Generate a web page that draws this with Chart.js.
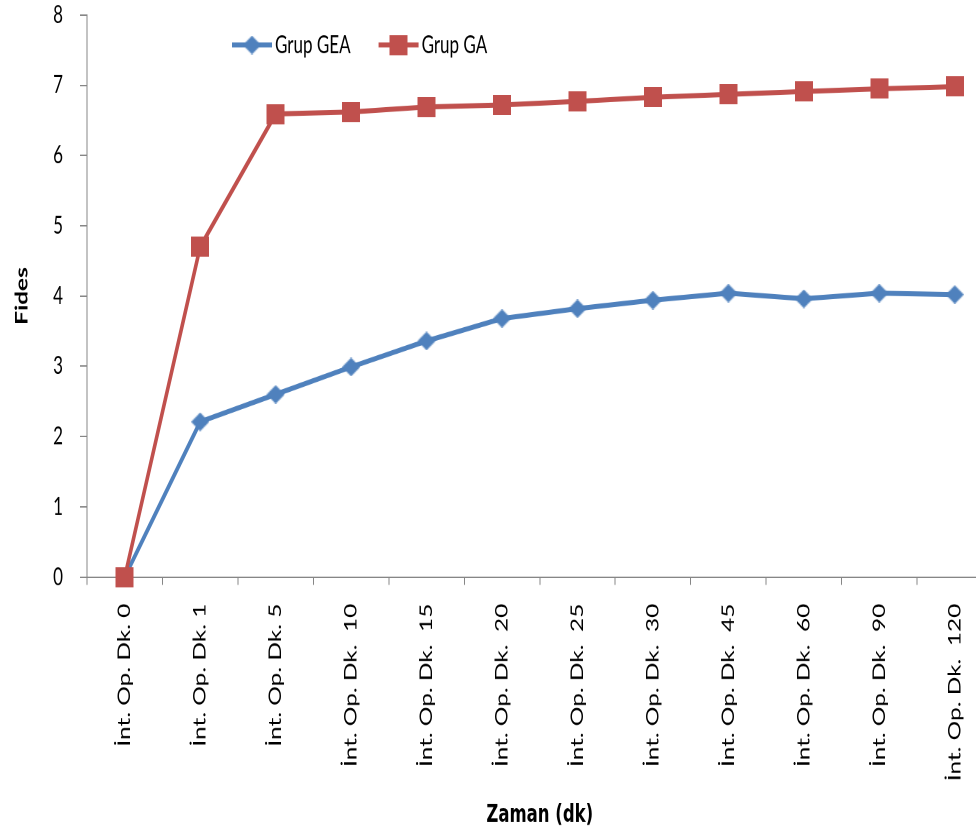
<!DOCTYPE html>
<html>
<head>
<meta charset="utf-8">
<title>Fides</title>
<script src="https://cdn.jsdelivr.net/npm/chart.js"></script>
<style>
  html { overflow: hidden; }
  body { margin: 0; padding: 0; background: #fff; }
  #chart { display: block; }
</style>
</head>
<body>
<canvas id="chart" width="1000" height="580"></canvas>
<script>
// categories (x axis)
const labels = [
  'İnt. Op. Dk. 0',
  'İnt. Op. Dk. 1',
  'İnt. Op. Dk. 5',
  'İnt. Op. Dk.  10',
  'İnt. Op. Dk.  15',
  'İnt. Op. Dk.  20',
  'İnt. Op. Dk.  25',
  'İnt. Op. Dk.  30',
  'İnt. Op. Dk.  45',
  'İnt. Op. Dk.  60',
  'İnt. Op. Dk.  90',
  'İnt. Op. Dk.  120'
];

// series values
const grupGEA = [0, 2.21, 2.60, 2.99, 3.36, 3.68, 3.82, 3.94, 4.04, 3.96, 4.04, 4.02];
const grupGA = [0, 4.70, 6.59, 6.62, 6.69, 6.72, 6.77, 6.83, 6.87, 6.91, 6.95, 6.98];

// y axis range
const yMin = 0;
const yMax = 8;
const yStep = 1;

const blue = '#4F81BD';
const red = '#C0504D';
const axisGray = '#868686';

// marker images, flattened so they come out about square after the stretch
function makeMarker(shape, color, w, h) {
  const c = document.createElement('canvas');
  c.width = w;
  c.height = h;
  const g = c.getContext('2d');
  g.fillStyle = color;
  if (shape === 'diamond') {
    g.beginPath();
    g.moveTo(w / 2, 0);
    g.lineTo(w, h / 2);
    g.lineTo(w / 2, h);
    g.lineTo(0, h / 2);
    g.closePath();
    g.fill();
  } else {
    g.fillRect(0, 0, w, h);
  }
  return c;
}

const diamond = makeMarker('diamond', blue, 18, 13);
const square = makeMarker('square', red, 18, 14);

// legend with a line and a marker, like the office chart
const lineLegend = {
  id: 'lineLegend',
  afterDraw(chart) {
    const ctx = chart.ctx;
    let x = 232;
    const y = 31.3;
    ctx.save();
    ctx.font = '17px Lato';
    ctx.textBaseline = 'middle';
    ctx.textAlign = 'left';
    chart.data.datasets.forEach(ds => {
      ctx.strokeStyle = ds.borderColor;
      ctx.lineWidth = 3.5;
      ctx.beginPath();
      ctx.moveTo(x, y);
      ctx.lineTo(x + 40, y);
      ctx.stroke();
      const img = ds.pointStyle;
      ctx.drawImage(img, x + 20 - img.width / 2, y - img.height / 2);
      ctx.fillStyle = '#000';
      ctx.fillText(ds.label, x + 43, y);
      x += 43 + ctx.measureText(ds.label).width + 28;
    });
    ctx.restore();
  }
};

const canvas = document.getElementById('chart');
const chart = new Chart(canvas.getContext('2d'), {
  type: 'line',
  data: {
    labels: labels,
    datasets: [
      {
        label: 'Grup GEA',
        data: grupGEA,
        borderColor: blue,
        backgroundColor: blue,
        borderWidth: 3.5,
        pointStyle: diamond,
        order: 1,
        clip: false,
        fill: false,
        tension: 0
      },
      {
        label: 'Grup GA',
        data: grupGA,
        borderColor: red,
        backgroundColor: red,
        borderWidth: 3.5,
        pointStyle: square,
        order: 0,
        clip: false,
        fill: false,
        tension: 0
      }
    ]
  },
  options: {
    responsive: false,
    animation: false,
    devicePixelRatio: 2,
    layout: { padding: { top: 10.4, right: 1, left: 0, bottom: 0 } },
    plugins: {
      legend: { display: false },
      tooltip: { enabled: false }
    },
    scales: {
      x: {
        offset: true,
        grid: { offset: true, drawOnChartArea: false, tickLength: 5.5, color: axisGray },
        border: { color: axisGray, width: 1 },
        ticks: {
          autoSkip: false,
          minRotation: 90,
          maxRotation: 90,
          padding: 13,
          color: '#000',
          font: { family: 'Lato', size: 17 }
        },
        title: {
          display: true,
          text: 'Zaman (dk)',
          color: '#000',
          font: { family: 'DejaVu Sans', weight: 'bold', size: 16.5 },
          padding: { top: 0, bottom: 3 }
        },
        afterFit(scale) { scale.height = 178.7; }
      },
      y: {
        min: yMin,
        max: yMax,
        grid: { drawOnChartArea: false, tickLength: 7, color: axisGray },
        border: { color: axisGray, width: 1 },
        ticks: {
          stepSize: yStep,
          padding: 17,
          color: '#000',
          font: { family: 'Lato', size: 17 }
        },
        title: {
          display: true,
          text: 'Fides',
          color: '#000',
          font: { family: 'Lato', weight: 'bold', size: 17 },
          padding: { top: 12, bottom: 0 }
        },
        afterFit(scale) {
          scale.width = 87;
          // the tick padding would otherwise push the plot down
          scale.paddingTop = 0;
          scale.paddingBottom = 0;
        }
      }
    }
  },
  plugins: [lineLegend]
});

// the original picture is stretched vertically: drawn 580 high, shown 834 high
canvas.style.height = '834px';
</script>
</body>
</html>
